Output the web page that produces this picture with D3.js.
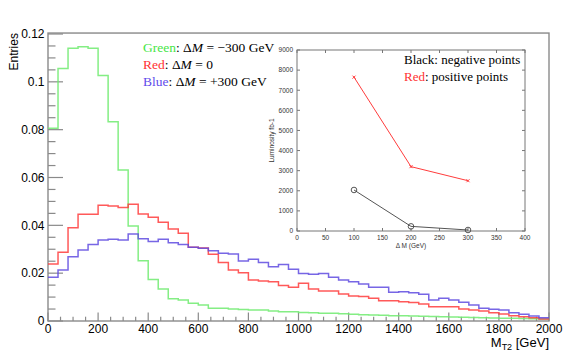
<!DOCTYPE html>
<html>
<head>
<meta charset="utf-8">
<script src="https://d3js.org/d3.v7.min.js"></script>
<style>
  body { margin: 0; background: #fff; }
  svg { display: block; }
  .tick-label { font-family: 'Liberation Sans', Arial, sans-serif; font-size: 12px; fill: #000; }
  .legend { font-family: 'Liberation Serif', 'DejaVu Serif', serif; font-size: 13.5px; fill: #000; }
  .inset-label { font-family: 'Liberation Sans', Arial, sans-serif; font-size: 6.5px; fill: #333; }
  .hist { fill: none; stroke-width: 1.5px; stroke-opacity: 0.85; }
</style>
</head>
<body>
<svg id="chart" width="569" height="357"></svg>
<script>
// M_T2 histograms, 50 bins of 40 GeV from 0 to 2000
const binWidth = 40;
const greenVals = [0.0806, 0.1056, 0.1140, 0.1147, 0.1140, 0.1026, 0.0833, 0.0631, 0.0397, 0.0252,
                   0.0174, 0.0134, 0.0093, 0.0088, 0.0074, 0.0067, 0.0053, 0.0053, 0.0050, 0.0048,
                   0.0046, 0.0046, 0.0042, 0.0039, 0.0039, 0.0036, 0.0034, 0.0032, 0.0032, 0.0030,
                   0.0028, 0.0026, 0.0025, 0.0024, 0.0022, 0.0022, 0.0021, 0.0020, 0.0019, 0.0018,
                   0.0017, 0.0016, 0.0015, 0.0014, 0.0013, 0.0012, 0.0011, 0.0010, 0.0009, 0.0008];
const redVals   = [0.0238, 0.0287, 0.0390, 0.0446, 0.0446, 0.0484, 0.0481, 0.0475, 0.0488, 0.0447,
                   0.0434, 0.0413, 0.0385, 0.0367, 0.0308, 0.0305, 0.0279, 0.0245, 0.0213, 0.0202,
                   0.0171, 0.0167, 0.0164, 0.0148, 0.0141, 0.0158, 0.0134, 0.0125, 0.0125, 0.0113,
                   0.0105, 0.0102, 0.0095, 0.0085, 0.0085, 0.0081, 0.0077, 0.0071, 0.0060, 0.0060,
                   0.0060, 0.0050, 0.0046, 0.0042, 0.0035, 0.0029, 0.0022, 0.0018, 0.0014, 0.0008];
const blueVals  = [0.0183, 0.0213, 0.0269, 0.0297, 0.0320, 0.0339, 0.0342, 0.0339, 0.0364, 0.0344,
                   0.0332, 0.0342, 0.0327, 0.0320, 0.0308, 0.0304, 0.0294, 0.0283, 0.0280, 0.0251,
                   0.0258, 0.0245, 0.0227, 0.0236, 0.0216, 0.0199, 0.0195, 0.0199, 0.0183, 0.0171,
                   0.0164, 0.0155, 0.0141, 0.0141, 0.0120, 0.0122, 0.0118, 0.0112, 0.0088, 0.0095,
                   0.0088, 0.0078, 0.0067, 0.0053, 0.0049, 0.0046, 0.0035, 0.0028, 0.0021, 0.0014];

const xTicks = [0, 200, 400, 600, 800, 1000, 1200, 1400, 1600, 1800, 2000];
const yTicks = [0, 0.02, 0.04, 0.06, 0.08, 0.1, 0.12];

// inset: luminosity vs delta M
const insetDM = [100, 200, 300];
const insetPositive = [7650, 3200, 2500];
const insetNegative = [2040, 230, 50];
const insetXTicks = [0, 50, 100, 150, 200, 250, 300, 350, 400];
const insetYTicks = [0, 1000, 2000, 3000, 4000, 5000, 6000, 7000, 8000, 9000];

const svg = d3.select('#chart');
const frame = {left: 48, right: 549, top: 34, bottom: 321};

const x = d3.scaleLinear().domain([0, 2000]).range([frame.left, frame.right]);
const y = d3.scaleLinear().domain([0, 0.12]).range([frame.bottom, frame.top]);
const frameTop = y(0.1204);
const axisColor = '#8a8a8a';

// frame box
svg.append('rect')
    .attr('x', frame.left).attr('y', frameTop)
    .attr('width', frame.right - frame.left).attr('height', frame.bottom - frameTop)
    .attr('fill', 'none').attr('stroke', axisColor).attr('stroke-width', 1.4);

// y ticks (inside, ROOT style)
const yMinor = d3.range(0, 0.12001, 0.005);
svg.append('g').selectAll('line').data(yMinor).join('line')
    .attr('x1', frame.left).attr('x2', (d, i) => frame.left + (i % 4 === 0 ? 15 : 7.5))
    .attr('y1', d => y(d)).attr('y2', d => y(d))
    .attr('stroke', axisColor).attr('stroke-width', 1.2);
svg.append('g').selectAll('text').data(yTicks).join('text')
    .attr('class', 'tick-label')
    .attr('x', 44.5).attr('y', d => y(d) + 4.3)
    .attr('text-anchor', 'end')
    .text(d => d === 0 ? '0' : d3.format('~g')(d));

// x ticks
const xMinor = d3.range(0, 2001, 50);
svg.append('g').selectAll('line').data(xMinor).join('line')
    .attr('x1', d => x(d)).attr('x2', d => x(d))
    .attr('y1', frame.bottom).attr('y2', d => frame.bottom - (d % 200 === 0 ? 8.6 : 4.3))
    .attr('stroke', axisColor).attr('stroke-width', 1.2);
svg.append('g').selectAll('text').data(xTicks).join('text')
    .attr('class', 'tick-label')
    .attr('x', d => x(d)).attr('y', 333)
    .attr('text-anchor', 'middle')
    .text(d => d);

// axis titles
svg.append('text').attr('class', 'tick-label')
    .attr('transform', 'translate(18,' + frameTop + ') rotate(-90)')
    .attr('text-anchor', 'end')
    .text('Entries');
const xTitle = svg.append('text').attr('class', 'tick-label')
    .attr('x', frame.right).attr('y', 347).attr('text-anchor', 'end')
    .style('font-size', '13px');
xTitle.append('tspan').text('M');
xTitle.append('tspan').attr('dy', 3).style('font-size', '9px').text('T2');
xTitle.append('tspan').attr('dy', -3).text(' [GeV]');

// histograms
function stepPoints(vals) {
    const pts = vals.map((v, i) => [i * binWidth, v]);
    pts.push([vals.length * binWidth, vals[vals.length - 1]]);
    return pts;
}
const step = d3.line()
    .x(d => x(d[0]))
    .y(d => y(d[1]))
    .curve(d3.curveStepAfter);

const series = [
    {vals: greenVals, color: 'rgb(110,235,110)'},
    {vals: redVals, color: 'rgb(255,60,60)'},
    {vals: blueVals, color: 'rgb(95,75,225)'}
];
svg.append('g').selectAll('path').data(series).join('path')
    .attr('class', 'hist')
    .attr('stroke', d => d.color)
    .attr('d', d => step(stepPoints(d.vals)));

// legend
const legendRows = [
    {name: 'Green', color: 'rgb(70,230,70)', rest: ' = \u2212300 GeV'},
    {name: 'Red', color: 'rgb(255,50,50)', rest: ' = 0'},
    {name: 'Blue', color: 'rgb(95,75,235)', rest: ' = +300 GeV'}
];
legendRows.forEach((r, i) => {
    const t = svg.append('text').attr('class', 'legend')
        .attr('x', 143).attr('y', 52 + i * 17);
    t.append('tspan').attr('fill', r.color).text(r.name);
    t.append('tspan').text(': \u0394');
    t.append('tspan').style('font-style', 'italic').text('M');
    t.append('tspan').text(r.rest);
});

// inset plot
const inset = {left: 297, right: 525, top: 50, bottom: 231};
const ix = d3.scaleLinear().domain([0, 400]).range([inset.left, inset.right]);
const iy = d3.scaleLinear().domain([0, 9000]).range([inset.bottom, inset.top]);
const ig = svg.append('g');
const insetColor = '#777';

ig.append('rect')
    .attr('x', inset.left).attr('y', inset.top)
    .attr('width', inset.right - inset.left).attr('height', inset.bottom - inset.top)
    .attr('fill', 'none').attr('stroke', insetColor).attr('stroke-width', 1);

ig.append('g').selectAll('line').data(insetYTicks).join('line')
    .attr('x1', inset.left).attr('x2', inset.left + 3)
    .attr('y1', d => iy(d)).attr('y2', d => iy(d))
    .attr('stroke', insetColor);
ig.append('g').selectAll('line').data(insetYTicks).join('line')
    .attr('x1', inset.right).attr('x2', inset.right - 3)
    .attr('y1', d => iy(d)).attr('y2', d => iy(d))
    .attr('stroke', insetColor);
ig.append('g').selectAll('line').data(insetXTicks).join('line')
    .attr('x1', d => ix(d)).attr('x2', d => ix(d))
    .attr('y1', inset.bottom).attr('y2', inset.bottom - 3)
    .attr('stroke', insetColor);
ig.append('g').selectAll('line').data(insetXTicks).join('line')
    .attr('x1', d => ix(d)).attr('x2', d => ix(d))
    .attr('y1', inset.top).attr('y2', inset.top + 3)
    .attr('stroke', insetColor);

ig.append('g').selectAll('text').data(insetYTicks).join('text')
    .attr('class', 'inset-label')
    .attr('x', inset.left - 4).attr('y', d => iy(d) + 2.3)
    .attr('text-anchor', 'end')
    .text(d => d);
ig.append('g').selectAll('text').data(insetXTicks).join('text')
    .attr('class', 'inset-label')
    .attr('x', d => ix(d)).attr('y', inset.bottom + 8.5)
    .attr('text-anchor', 'middle')
    .text(d => d);
ig.append('text').attr('class', 'inset-label')
    .attr('transform', 'translate(274,' + ((inset.top + inset.bottom) / 2) + ') rotate(-90)')
    .attr('text-anchor', 'middle')
    .text('Luminosity fb-1');
ig.append('text').attr('class', 'inset-label')
    .attr('x', (inset.left + inset.right) / 2).attr('y', inset.bottom + 17)
    .attr('text-anchor', 'middle')
    .text('\u0394 M (GeV)');

const iline = d3.line().x(d => ix(d[0])).y(d => iy(d[1]));
const posPts = insetDM.map((d, i) => [d, insetPositive[i]]);
const negPts = insetDM.map((d, i) => [d, insetNegative[i]]);

ig.append('path').attr('d', iline(posPts))
    .attr('fill', 'none').attr('stroke', 'rgb(255,60,60)').attr('stroke-width', 1);
ig.append('path').attr('d', iline(negPts))
    .attr('fill', 'none').attr('stroke', '#555').attr('stroke-width', 1);

ig.append('g').selectAll('path').data(posPts).join('path')
    .attr('d', d => {
        const cx = ix(d[0]), cy = iy(d[1]);
        return 'M' + (cx - 1.5) + ',' + (cy - 1.5) + 'L' + (cx + 1.5) + ',' + (cy + 1.5) +
               'M' + (cx - 1.5) + ',' + (cy + 1.5) + 'L' + (cx + 1.5) + ',' + (cy - 1.5);
    })
    .attr('stroke', 'rgb(255,60,60)').attr('stroke-width', 1);
ig.append('g').selectAll('circle').data(negPts).join('circle')
    .attr('cx', d => ix(d[0])).attr('cy', d => iy(d[1])).attr('r', 2.8)
    .attr('fill', 'none').attr('stroke', '#444').attr('stroke-width', 0.9);

// inset legend
const ilg1 = ig.append('text').attr('class', 'legend').style('font-size', '13px')
    .attr('x', 404).attr('y', 64);
ilg1.text('Black: negative points');
const ilg2 = ig.append('text').attr('class', 'legend').style('font-size', '13px')
    .attr('x', 404).attr('y', 80.5);
ilg2.append('tspan').attr('fill', 'rgb(255,50,50)').text('Red');
ilg2.append('tspan').text(': positive points');

// keep the first legend row clear of the inset axis labels
const firstRow = svg.select('text.legend').node();
const w = firstRow.getComputedTextLength();
if (w > 134) d3.select(firstRow).attr('textLength', 134).attr('lengthAdjust', 'spacing');
</script>
</body>
</html>
